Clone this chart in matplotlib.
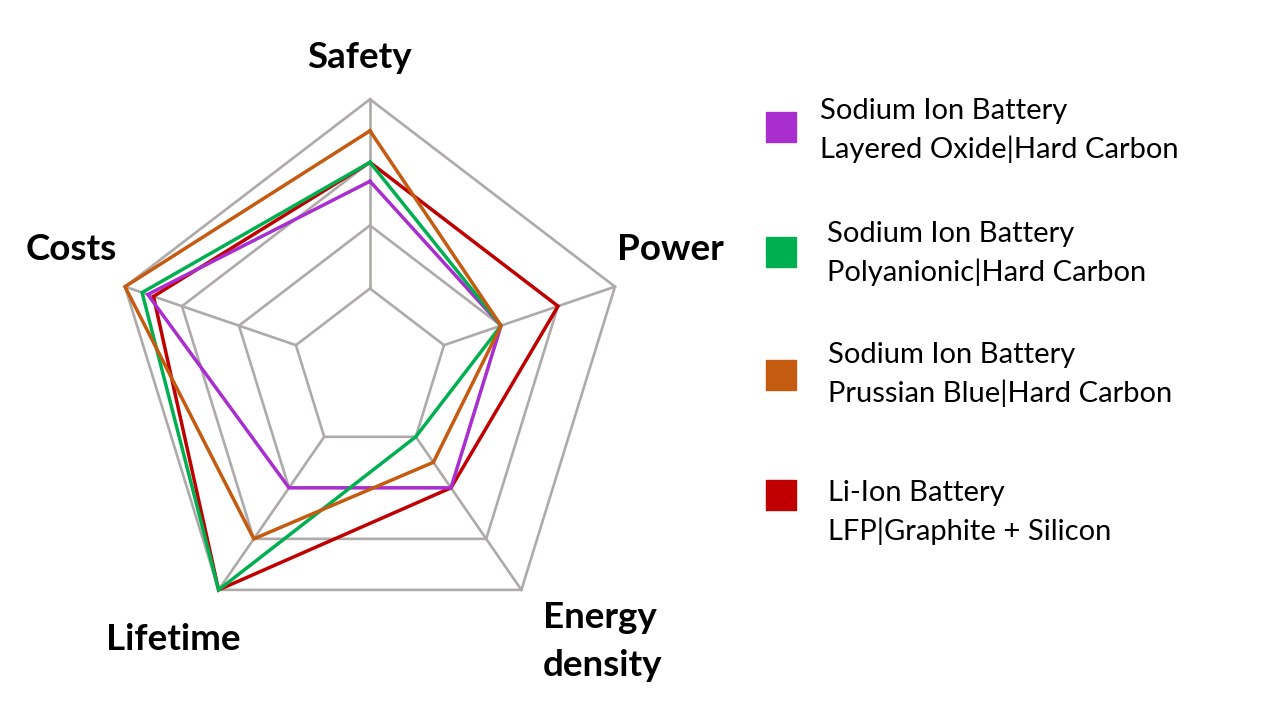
import numpy as np
import matplotlib.pyplot as plt
from matplotlib.patches import Rectangle

plt.rcParams['font.family'] = ['Lato', 'DejaVu Sans']

categories = ["Safety", "Power", "Energy density", "Lifetime", "Costs"]
series_names = [
    ("Sodium Ion Battery", "Layered Oxide|Hard Carbon"),
    ("Sodium Ion Battery", "Polyanionic|Hard Carbon"),
    ("Sodium Ion Battery", "Prussian Blue|Hard Carbon"),
    ("Li-Ion Battery", "LFP|Graphite + Silicon"),
]
layered_oxide = [3.7, 3.0, 3.0, 3.0, 4.6]
polyanionic = [4.0, 3.0, 2.0, 5.0, 4.7]
prussian_blue = [4.5, 3.0, 2.5, 4.0, 5.0]
li_ion = [4.0, 4.0, 3.0, 5.0, 4.5]
colors = ["#A92ED0", "#00B050", "#C55A11", "#C00000"]
grid_levels = [2, 3, 4, 5]

values = [layered_oxide, polyanionic, prussian_blue, li_ion]
angles = np.linspace(0, 2 * np.pi, len(categories), endpoint=False)
closed = np.append(angles, angles[0])

fig = plt.figure(figsize=(12.8, 7.2), dpi=100)
ax = fig.add_axes([0.0878, 0.1088, 0.4025, 0.7533], projection='polar')
ax.set_aspect('auto')
ax.set_theta_offset(np.pi / 2)
ax.set_theta_direction(-1)
ax.set_ylim(0.7, 5)
ax.set_axis_off()

grid_color = "#AEAAAA"
for lvl in grid_levels:
    ax.plot(closed, [lvl] * len(closed), color=grid_color, lw=1.9,
            solid_joinstyle='miter', clip_on=False, zorder=1)
for a in angles:
    ax.plot([a, a], [grid_levels[0], grid_levels[-1]], color=grid_color,
            lw=1.9, clip_on=False, zorder=1)

# red underneath, then the sodium series
order = [3, 0, 1, 2]
for z, i in enumerate(order):
    v = values[i] + values[i][:1]
    ax.plot(closed, v, color=colors[i], lw=2.5, solid_joinstyle='miter',
            clip_on=False, zorder=3 + z)

# axis labels
W, H = 1280, 720
lab_kw = dict(fontsize=26.5, fontweight='bold', color='black', va='center')
fig.text(360 / W, 1 - 57 / H, "Safety", ha='center', **lab_kw)
fig.text(670 / W, 1 - 250 / H, "Power", ha='center', **lab_kw)
fig.text(71 / W, 1 - 250 / H, "Costs", ha='center', **lab_kw)
fig.text(173 / W, 1 - 639 / H, "Lifetime", ha='center', **lab_kw)
fig.text(543 / W, 1 - 617 / H, "Energy", ha='left', **lab_kw)
fig.text(543 / W, 1 - 665 / H, "density", ha='left', **lab_kw)

# legend
sq_top = [112, 237, 360, 480]
text_x = [820, 827, 828, 828]
line1_y = [111, 234, 355, 493]
for i, (l1, l2) in enumerate(series_names):
    fig.patches.append(Rectangle((766 / W, 1 - (sq_top[i] + 30) / H), 30 / W, 30 / H,
                                 transform=fig.transFigure, color=colors[i]))
    fig.text(text_x[i] / W, 1 - line1_y[i] / H, l1, fontsize=21, va='center', ha='left')
    fig.text(text_x[i] / W, 1 - (line1_y[i] + 38) / H, l2, fontsize=21, va='center', ha='left')

fig.savefig("out.png", dpi=100)
